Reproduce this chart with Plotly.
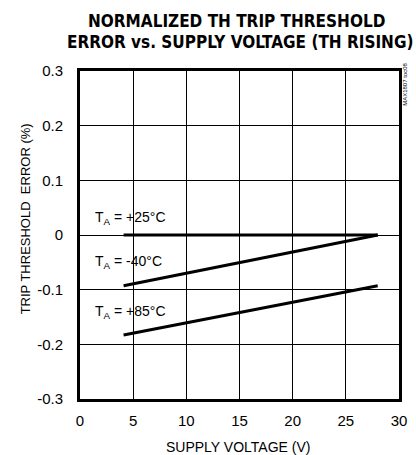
import plotly.graph_objects as go

# Data
v_start, v_end = 4.1, 28.0
series_names = ["T<sub>A</sub> = +25°C", "T<sub>A</sub> = -40°C", "T<sub>A</sub> = +85°C"]
x_vals = [v_start, v_end]
y_25 = [0.0, 0.0]
y_m40 = [-0.093, 0.0]
y_85 = [-0.183, -0.093]
label_y = [0.031, -0.05, -0.14]
x_ticks = [0, 5, 10, 15, 20, 25, 30]
y_ticks = [-0.3, -0.2, -0.1, 0, 0.1, 0.2, 0.3]
y_tick_text = ["-0.3", "-0.2", "-0.1", "0", "0.1", "0.2", "0.3"]

FONT = "Liberation Sans, Arial, sans-serif"
TFONT = "DejaVu Sans Condensed, Liberation Sans, sans-serif"

fig = go.Figure()
for ys in [y_25, y_m40, y_85]:
    fig.add_trace(go.Scatter(x=x_vals, y=ys, mode="lines",
                             line=dict(color="black", width=3), showlegend=False))

for name, ly in zip(series_names, label_y):
    fig.add_annotation(x=1.2, y=ly, xref="x", yref="y", text=name, showarrow=False,
                       xanchor="left", yanchor="middle",
                       font=dict(family=FONT, size=14, color="black"))

fig.update_layout(
    width=416, height=455,
    margin=dict(l=80, r=9, t=71, b=56),
    paper_bgcolor="white", plot_bgcolor="white",
    font=dict(family=FONT, size=14, color="black"),
    xaxis=dict(range=[0, 30], tickvals=x_ticks, showgrid=True, gridcolor="black", gridwidth=1,
               zeroline=False, showline=True, linecolor="black", linewidth=3, mirror=True,
               ticks="", tickfont=dict(size=15), ticklabelstandoff=6),
    yaxis=dict(range=[-0.3, 0.3], tickvals=y_ticks, ticktext=y_tick_text, showgrid=True,
               gridcolor="black", gridwidth=1, zeroline=False, showline=True, linecolor="black",
               linewidth=3, mirror=True, ticks="", tickfont=dict(size=15), ticklabelstandoff=11),
)

fig.add_annotation(x=0.49, y=1.152, xref="paper", yref="paper",
                   text="<b>NORMALIZED TH TRIP THRESHOLD</b>", showarrow=False,
                   xanchor="center", yanchor="middle",
                   font=dict(family=TFONT, size=17, color="black"))
fig.add_annotation(x=0.5, y=1.088, xref="paper", yref="paper",
                   text="<b>ERROR vs. SUPPLY VOLTAGE (TH RISING)</b>", showarrow=False,
                   xanchor="center", yanchor="middle",
                   font=dict(family=TFONT, size=17, color="black"))
fig.add_annotation(x=-0.168, y=0.549, xref="paper", yref="paper", text="TRIP THRESHOLD  ERROR (%)",
                   textangle=-90, showarrow=False, font=dict(family=FONT, size=13, color="black"),
                   xanchor="center", yanchor="middle")
fig.add_annotation(x=0.495, y=-0.146, xref="paper", yref="paper", text="SUPPLY VOLTAGE (V)",
                   showarrow=False, font=dict(family=FONT, size=14, color="black"),
                   xanchor="center", yanchor="middle")
fig.add_annotation(x=1.018, y=0.96, xref="paper", yref="paper", text="MAX1807 toc08",
                   textangle=-90, showarrow=False, font=dict(family=FONT, size=6, color="black"),
                   xanchor="center", yanchor="middle")

fig.write_html("out.html", post_script="document.body.style.margin='0';",
               config={"displayModeBar": False})
